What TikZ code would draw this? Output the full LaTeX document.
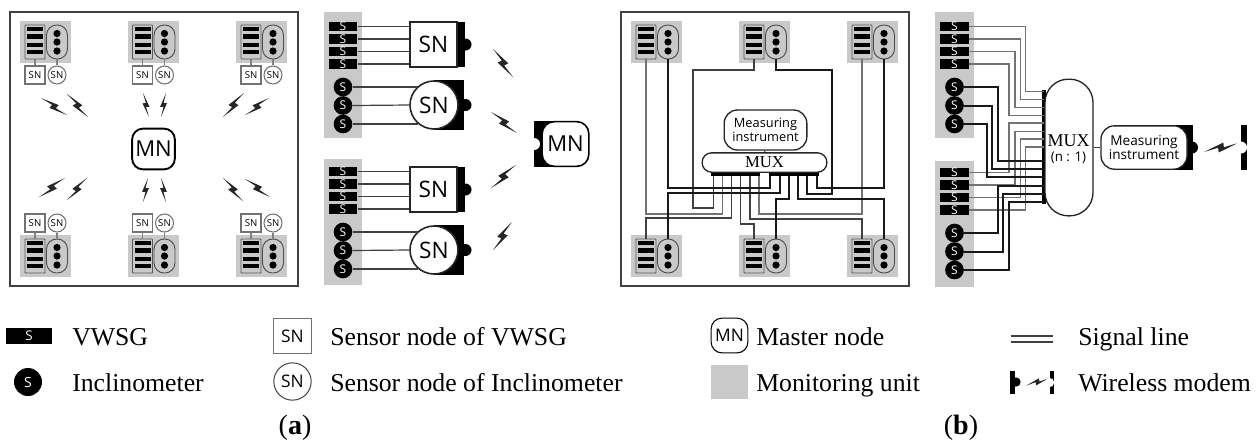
\documentclass[tikz,border=0pt]{standalone}
\usepackage{fontspec}
\setmainfont{Liberation Serif}
\setsansfont{Open Sans}
\usetikzlibrary{calc}

% monitoring unit: grey area, gauge box with 4 bars, pill with 3 dots
\newcommand{\monunit}[3]{%
    \node [unit] (#1) at (#2+25.5,#3+21) {};
    \node [gbox] (#1v) at (#2+15,#3+21) {};
    \node [ibox] (#1i) at (#2+37,#3+21) {};
    \foreach \i/\dy in {1/-13,2/-5.5,3/3,4/10}
        \node [gbar] (#1b\i) at (#2+15,#3+21+\dy) {};
    \foreach \i/\dy in {1/-8.5,2/0,3/9}
        \node [idot] (#1d\i) at (#2+37,#3+21+\dy) {};
}
% column of sensors on a grey strip
\newcommand{\sensors}[4]{%
    \node [strip] (#1) at (#2+19.5,#3+63) {};
    \foreach \i/\yy in {1/26.5,2/39,3/51.5,4/64}
        \node [vwsg] (#1s\i) at (#2+19.5,\yy+#4) {S};
    \foreach \i/\yy in {1/87,2/105.5,3/124}
        \node [incl] (#1c\i) at (#2+19.5,\yy+#4) {S};
}
% lightning: start, end, side
\newcommand{\bolt}[3]{%
    \fill [spark] (#1) -- ($(#1)!.612!#3*11.3:(#2)$) -- ($(#1)!.58!-#3*1.4:(#2)$)
        -- (#2) -- ($(#1)!.418!-#3*16.7:(#2)$) -- ($(#1)!.42!#3*1.9:(#2)$) -- cycle;
}

\begin{document}
\begin{tikzpicture}[
    x=.75pt, y=-.75pt,
    % Styles
    frame/.style={% For the two panels
        rectangle,
        draw=black!75,
        line width=1.5pt,
        minimum width=216pt,
        minimum height=205.5pt,
        },
    unit/.style={% grey monitoring unit
        rectangle,
        fill=black!21,
        minimum width=38.25pt,
        minimum height=31.5pt,
        },
    strip/.style={% grey strip of sensors
        rectangle,
        fill=black!21,
        minimum width=29pt,
        minimum height=94.5pt,
        },
    gbox/.style={%
        rectangle,
        draw=black!65,
        line width=.7pt,
        rounded corners=.5pt,
        minimum width=15pt,
        minimum height=25.5pt,
        },
    ibox/.style={%
        rectangle,
        draw=black!70,
        line width=.7pt,
        rounded corners=7.6pt,
        minimum width=15.75pt,
        minimum height=25.5pt,
        },
    gbar/.style={%
        rectangle,
        fill=black,
        minimum width=12pt,
        minimum height=3.4pt,
        inner sep=0pt,
        },
    idot/.style={%
        circle,
        fill=black,
        minimum size=5.4pt,
        inner sep=0pt,
        },
    vwsg/.style={% For bar sensors
        rectangle,
        fill=black,
        text=white,
        font=\sffamily\fontsize{9}{9}\selectfont,
        minimum width=21.5pt,
        minimum height=7.4pt,
        inner sep=0pt,
        },
    incl/.style={% For round sensors
        circle,
        fill=black,
        text=white,
        font=\sffamily\fontsize{9}{9}\selectfont,
        minimum size=14pt,
        inner sep=0pt,
        },
    snsq/.style={% Small square sensor node
        rectangle,
        draw=black!55,
        line width=.8pt,
        fill=white,
        font=\sffamily\fontsize{7.2}{7.2}\selectfont,
        minimum width=15pt,
        minimum height=13.5pt,
        inner sep=0pt,
        },
    snci/.style={% Small round sensor node
        circle,
        draw=black!55,
        line width=.8pt,
        fill=white,
        font=\sffamily\fontsize{7.2}{7.2}\selectfont,
        minimum size=13.5pt,
        inner sep=0pt,
        },
    mnode/.style={% Master node
        rectangle,
        draw,
        line width=1.4pt,
        fill=white,
        rounded corners=8pt,
        font=\sffamily\fontsize{16.5}{16.5}\selectfont,
        inner sep=0pt,
        },
    bigsn/.style={% Big sensor nodes
        draw=black!85,
        line width=1.2pt,
        fill=white,
        font=\sffamily\fontsize{17}{17}\selectfont,
        inner sep=0pt,
        },
    block/.style={% Black body of a modem
        rectangle,
        fill=black,
        inner sep=0pt,
        },
    bump/.style={% Modem bump or notch
        circle,
        fill=black,
        minimum size=9pt,
        inner sep=0pt,
        },
    instr/.style={% Measuring instrument
        rectangle,
        draw=black!85,
        line width=1pt,
        fill=white,
        rounded corners=10pt,
        align=center,
        font=\sffamily,
        inner sep=0pt,
        },
    muxbox/.style={%
        rectangle,
        draw=black!85,
        line width=1pt,
        fill=white,
        inner sep=0pt,
        },
    spark/.style={fill=black!85},
    legend/.style={% Legend text
        anchor=base west,
        inner sep=0pt,
        font=\fontsize{19.3}{20}\selectfont,
        },
    WireG/.style={% VWSG lines
        draw=black!55,
        line width=1.1pt,
        },
    WireK/.style={% Inclinometer lines
        draw=black!90,
        line width=1.5pt,
        },
    WireS/.style={% Thin lines to sensor nodes
        draw=black!75,
        line width=.9pt,
        },
    WireU/.style={% Stubs inside panel (a)
        draw=black!50,
        line width=1.3pt,
        },
    ]
    \useasboundingbox (0,0) rectangle (1256,444);

    % Draw panel (a):
    \node [frame] (pa) at (153.5,149) {};

    \monunit{tl}{20}{21}
    \monunit{tm}{127.5}{21}
    \monunit{tr}{236}{21}
    \monunit{bl}{20}{235}
    \monunit{bm}{127.5}{235}
    \monunit{br}{236}{235}

    %top sensor nodes
    \foreach \u in {tl,tm,tr}{
        \node [snsq] (\u sq) at ($(\u v)+(0,33)$) {SN};
        \node [snci] (\u sc) at ($(\u i)+(0,33)$) {SN};
        \draw [WireU] (\u v) ++(0,17) -- (\u sq);
        \draw [WireU] (\u i) ++(0,17) -- (\u sc);
    }
    %bottom sensor nodes
    \foreach \u in {bl,bm,br}{
        \node [snsq] (\u sq) at ($(\u v)+(0,-33)$) {SN};
        \node [snci] (\u sc) at ($(\u i)+(0,-33)$) {SN};
        \draw [WireU] (\u v) ++(0,-17) -- (\u sq);
        \draw [WireU] (\u i) ++(0,-17) -- (\u sc);
    }

    \node [mnode, minimum width=32pt, minimum height=30.5pt] (mn) at (153.5,149) {MN};

    \bolt{41,98}{67,115}{1}
    \bolt{67,94}{88,117}{1}
    \bolt{143,93}{149,117}{1}
    \bolt{166,93}{161,117}{-1}
    \bolt{244,93}{223,117}{-1}
    \bolt{269,98}{245,115}{-1}
    \bolt{65,178}{39,197}{-1}
    \bolt{87,178}{67,200}{-1}
    \bolt{148,178}{143,202}{-1}
    \bolt{161,178}{166,202}{1}
    \bolt{223,178}{243,201}{1}
    \bolt{245,179}{270,197}{1}

    % Draw sensor groups of (a)
    \sensors{ga}{323.5}{12}{0}
    \sensors{gb}{323.5}{159}{145}

    \foreach \g/\yy in {ga/0,gb/145}{
        \node [bump] (\g mq) at (465.5,44.5+\yy) {};
        \node [block, minimum width=6pt, minimum height=34pt] (\g kq) at (460.5,44.5+\yy) {};
        \node [bigsn, rectangle, minimum width=35pt, minimum height=33.5pt] (\g sq) at (433.5,44.5+\yy) {SN};
        \node [bump] (\g mc) at (465.5,105+\yy) {};
        \node [block, minimum width=22.5pt, minimum height=37.5pt] (\g kc) at (449,105+\yy) {};
        \node [bigsn, circle, minimum size=36pt] (\g sc) at (434,105+\yy) {SN};
        \foreach \i in {1,2,3,4}
            \draw [WireS] (\g s\i.east) -- (\g s\i.east -| \g sq.west);
        \draw [WireS] (\g c1.east) -- (\g c1.east -| \g sc.130);
        \draw [WireS] (\g c2.east) -- (\g sc.west);
        \draw [WireS] (\g c3.east) -- (\g c3.east -| \g sc.230);
    }

    \bolt{493,49}{513,77}{1}
    \bolt{491,112}{517,133}{1}
    \bolt{516,165}{491,188}{-1}
    \bolt{512,222}{493,250}{-1}

    % Draw the master modem
    \node [block, minimum width=19.5pt, minimum height=34.5pt] (kmn) at (547,144) {};
    \node [bump, fill=white] (nmn) at (534,144) {};
    \node [mnode, minimum width=35pt, minimum height=33.5pt, rounded corners=9pt, line width=1.2pt] (mnb) at (565.5,144) {MN};

    % Draw panel (b):
    \node [frame] (pb) at (764.5,149) {};

    \monunit{ul}{631}{21}
    \monunit{um}{739}{21}
    \monunit{ur}{847}{21}
    \monunit{dl}{631}{235}
    \monunit{dm}{739}{235}
    \monunit{dr}{847}{235}

    %pins of the mux
    \foreach \i/\xx in {1/713.3,2/722.3,3/731.7,4/740.7,5/750,6/759,7/770,8/780,9/789.3,10/798.3,11/807.3,12/816.7}
        \coordinate (p\i) at (\xx,174);

    % VWSG lines
    \draw [WireS] (umv.south) |- (693,70) |- (p1 |- 0,208) -- (p1);
    \draw [WireG] (ulv.south) |- (p2 |- 0,214) -- (p2);
    \draw [WireS] (dlv.north) |- (p3 |- 0,218) -- (p3);
    \draw [WireS] (dmv.north) |- (p4 |- 0,224) -- (p4);
    \draw [WireS] (drv.north) |- (p5 |- 0,219) -- (p5);
    \draw [WireG] (urv.south) |- (p6 |- 0,214) -- (p6);
    % Inclinometer lines
    \draw [WireK] (uli.south) |- (p7 |- 0,187.7) -- (p7);
    \draw [WireK] (dli.north) |- (p8 |- 0,193) -- (p8);
    \draw [WireK] (dmi.north) |- (p9 |- 0,199) -- (p9);
    \draw [WireK] (dri.north) |- (p10 |- 0,199) -- (p10);
    \draw [WireK] (umi.south) |- (832,70) |- (p11 |- 0,194) -- (p11);
    \draw [WireK] (uri.south) |- (p12 |- 0,187.7) -- (p12);

    \node [block, minimum width=37pt, minimum height=2.6pt] (ka) at (735.5,174) {};
    \node [block, minimum width=37.5pt, minimum height=2.6pt] (kb) at (794,174) {};
    \node [muxbox, rounded corners=7pt, minimum width=93.5pt, minimum height=14.5pt,
        font=\fontsize{12.5}{12.5}\selectfont] (muxa) at (764.5,162.5) {MUX};
    \node [instr, minimum width=62pt, minimum height=30pt,
        font=\sffamily\fontsize{9.6}{10}\selectfont] (mia) at (765.5,130) {Measuring\\instrument};
    \draw [WireS] (mia) -- (muxa);

    % Draw sensor groups of (b)
    \sensors{gc}{935}{12}{0}
    \sensors{gd}{935}{161}{146}

    \node [block, minimum width=3pt, minimum height=85.5pt] (kmux) at (1044,147) {};
    \node [muxbox, rounded corners=17.5pt, minimum width=36pt, minimum height=102.5pt] (muxb) at (1069,147.5) {};
    \node [font=\fontsize{13.5}{13.5}\selectfont, inner sep=0pt] (muxt) at (1068.5,141) {MUX};
    \node [font=\sffamily\fontsize{10}{10}\selectfont, inner sep=0pt] (muxn) at (1068.5,158) {(n : 1)};

    % Gauge lines
    \foreach \src/\xx/\yy in {gcs1/1025.7/91.7, gcs2/1020.7/99.3, gcs3/1015/107.3, gcs4/1009/115.7,
        gds1/1009/123, gds2/1015/131.7, gds3/1020.7/139, gds4/1025.7/147}
        \draw [WireG] (\src.east) -| (\xx,\yy) -- (muxb.west |- 0,\yy);
    % Round sensor lines
    \foreach \src/\xx/\yy in {gcc1/998/160.7, gcc2/992/169, gcc3/987/177,
        gdc1/998/185.7, gdc2/1003/194, gdc3/1009/202.3}
        \draw [WireK] (\src.east) -| (\xx,\yy) -- (muxb.west |- 0,\yy);

    % Instrument with modem
    \node [bump] (mmi) at (1192,147.5) {};
    \node [block, minimum width=18pt, minimum height=33.5pt] (kmi) at (1180.5,147.5) {};
    \node [instr, minimum width=64.5pt, minimum height=32.5pt,
        font=\sffamily\fontsize{10.2}{10}\selectfont] (mib) at (1144,147.5) {Measuring\\instrument};
    \draw [WireS] (muxb.east |- mib) -- (mib);
    \bolt{1204,152}{1238,143}{1}
    \node [block, minimum width=4.5pt, minimum height=33.5pt] (kend) at (1244,147.5) {};
    \node [bump, fill=white] (nend) at (1241,147.5) {};

    % Draw legend
    \node [vwsg, minimum width=34.5pt, minimum height=12pt, font=\sffamily\fontsize{10}{10}\selectfont] (lv) at (29,336) {S};
    \node [incl, minimum size=21pt, font=\sffamily\fontsize{10.5}{10.5}\selectfont] (li) at (28,382) {S};
    \node [legend] (tv) at (72,345.5) {VWSG};
    \node [legend] (ti) at (72,391.5) {Inclinometer};

    \node [snsq, minimum width=28pt, minimum height=26pt, font=\sffamily\fontsize{13}{13}\selectfont] (ls) at (292.5,336) {SN};
    \node [snci, minimum size=28pt, draw=black!70, font=\sffamily\fontsize{13}{13}\selectfont] (lc) at (292.5,381.5) {SN};
    \node [legend] (ts) at (330,345.5) {Sensor node of VWSG};
    \node [legend] (tc) at (330,391.5) {Sensor node of Inclinometer};
    \node [inner sep=0pt, font=\fontsize{21}{21}\selectfont] (capa) at (295,428) {(\textbf{a})};

    \node [mnode, minimum width=27.5pt, minimum height=26pt, line width=.8pt, font=\sffamily\fontsize{13}{13}\selectfont] (lm) at (729.5,335.5) {MN};
    \node [unit, minimum width=27.5pt, minimum height=25.5pt] (lu) at (729.5,382) {};
    \node [legend] (tm) at (756,345.5) {Master node};
    \node [legend] (tu) at (756,391.5) {Monitoring unit};

    \coordinate (la) at (1011,335.7);
    \coordinate (lb) at (1053,335.7);
    \coordinate (lc2) at (1011,341.7);
    \coordinate (ld) at (1053,341.7);
    \draw [WireS, line width=1.3pt] (la) -- (lb);
    \draw [WireS, line width=1.3pt] (lc2) -- (ld);
    \node [legend] (tl2) at (1078,345.5) {Signal line};

    \node [bump, minimum size=7pt] (lmb) at (1016,382) {};
    \node [block, minimum width=3.5pt, minimum height=17.5pt] (lk1) at (1012.5,382.5) {};
    \bolt{1026,385.7}{1049,378}{1}
    \node [block, minimum width=3.5pt, minimum height=17.5pt] (lk2) at (1052,382.5) {};
    \node [bump, fill=white, minimum size=7pt] (lnt) at (1049.5,382.5) {};
    \node [legend] (tw) at (1078,391.5) {Wireless modem};
    \node [inner sep=0pt, font=\fontsize{21}{21}\selectfont] (capb) at (961,428) {(\textbf{b})};

\end{tikzpicture}
\end{document}
